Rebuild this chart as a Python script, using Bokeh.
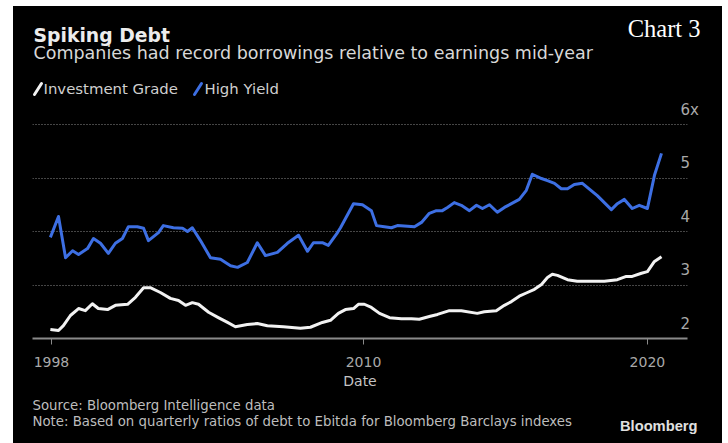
from bokeh.plotting import figure
from bokeh.models import Range1d, LinearAxis, FixedTicker
from bokeh.layouts import column
from bokeh.core.properties import value
from bokeh.embed import file_html
from bokeh.resources import INLINE

title = "Spiking Debt"
subtitle = "Companies had record borrowings relative to earnings mid-year"
series_names = ["Investment Grade", "High Yield"]

ig_dates = [1997.96, 1998.26, 1998.44, 1998.70, 1999.00, 1999.25, 1999.51, 1999.73, 2000.07, 2000.36,
            2000.81, 2001.10, 2001.40, 2001.65, 2002.02, 2002.39, 2002.69, 2002.95, 2003.20, 2003.43,
            2003.80, 2004.16, 2004.50, 2004.79, 2005.23, 2005.60, 2005.97, 2006.56, 2007.19, 2007.56,
            2008.00, 2008.30, 2008.59, 2008.85, 2009.15, 2009.33, 2009.55, 2009.81, 2010.11, 2010.48,
            2010.92, 2011.29, 2011.58, 2011.95, 2012.25, 2012.69, 2013.13, 2013.72, 2013.98, 2014.42,
            2014.72, 2014.98, 2015.27, 2015.57, 2015.83, 2016.09, 2016.31, 2016.49, 2016.68, 2017.05,
            2017.41, 2018.41, 2018.89, 2019.22, 2019.44, 2019.78, 2020.00, 2020.26, 2020.52]
ig_ratio = [2.17, 2.15, 2.24, 2.43, 2.56, 2.52, 2.65, 2.56, 2.54, 2.62,
            2.64, 2.77, 2.95, 2.95, 2.86, 2.75, 2.71, 2.62, 2.67, 2.64,
            2.49, 2.39, 2.30, 2.22, 2.26, 2.28, 2.24, 2.22, 2.19, 2.21,
            2.30, 2.34, 2.47, 2.54, 2.56, 2.64, 2.64, 2.58, 2.47, 2.39,
            2.37, 2.37, 2.36, 2.41, 2.45, 2.52, 2.52, 2.47, 2.50, 2.52,
            2.62, 2.69, 2.79, 2.86, 2.92, 3.01, 3.14, 3.20, 3.18, 3.10,
            3.07, 3.07, 3.10, 3.16, 3.16, 3.22, 3.25, 3.44, 3.53]

hy_dates = [1997.96, 1998.26, 1998.52, 1998.78, 1999.00, 1999.33, 1999.55, 1999.81, 2000.10, 2000.36,
            2000.62, 2000.84, 2001.17, 2001.40, 2001.58, 2001.95, 2002.13, 2002.50, 2002.84, 2003.02,
            2003.20, 2003.50, 2003.87, 2004.24, 2004.61, 2004.87, 2005.23, 2005.60, 2005.90, 2006.34,
            2006.71, 2007.12, 2007.45, 2007.67, 2008.00, 2008.22, 2008.56, 2008.67, 2009.15, 2009.48,
            2009.81, 2010.00, 2010.29, 2010.55, 2010.77, 2011.40, 2011.66, 2011.95, 2012.21, 2012.43,
            2012.62, 2012.87, 2013.13, 2013.43, 2013.69, 2013.91, 2014.17, 2014.46, 2014.72, 2014.98,
            2015.27, 2015.53, 2015.75, 2016.09, 2016.31, 2016.57, 2016.82, 2017.05, 2017.30, 2017.60,
            2018.15, 2018.67, 2018.89, 2019.15, 2019.44, 2019.70, 2020.00, 2020.26, 2020.52]
hy_ratio = [3.89, 4.28, 3.51, 3.64, 3.57, 3.68, 3.87, 3.78, 3.59, 3.78,
            3.87, 4.09, 4.09, 4.06, 3.83, 3.98, 4.11, 4.07, 4.06, 4.00,
            4.07, 3.83, 3.51, 3.48, 3.36, 3.33, 3.42, 3.79, 3.55, 3.61,
            3.78, 3.93, 3.63, 3.79, 3.79, 3.74, 3.98, 4.07, 4.52, 4.50,
            4.39, 4.11, 4.09, 4.07, 4.11, 4.09, 4.17, 4.34, 4.39, 4.39,
            4.45, 4.54, 4.49, 4.39, 4.49, 4.43, 4.50, 4.36, 4.45, 4.52,
            4.60, 4.77, 5.07, 4.99, 4.95, 4.90, 4.80, 4.80, 4.88, 4.90,
            4.67, 4.41, 4.52, 4.60, 4.43, 4.49, 4.43, 5.05, 5.46]

x_tick_values = [1998, 2009.52, 2020]
x_tick_labels = ["1998", "2010", "2020"]
y_tick_values = [2, 3, 4, 5, 6]
y_tick_labels = ["2", "3", "4", "5", "6x"]

source_note = "Source: Bloomberg Intelligence data"
method_note = "Note: Based on quarterly ratios of debt to Ebitda for Bloomberg Barclays indexes"
brand = "Bloomberg"
chart_tag = "Chart 3"

BLUE = "#3d6fe3"
WHITE = "#f2f2f2"
GRID = "#8a8a8a"
TICKTXT = "#a9a9a9"
W = 709


def text_panel(h):
    f = figure(width=W, height=h, x_range=Range1d(0, W), y_range=Range1d(h, 0),
               output_backend="svg", toolbar_location=None,
               x_axis_location=None, y_axis_location=None,
               background_fill_color="black", border_fill_color="black",
               min_border=0, frame_align=False)
    f.outline_line_color = None
    f.grid.visible = False
    return f


def put(f, t, x, y, size, color, font="DejaVu Sans", style="normal", align="left"):
    f.text(x=[x], y=[y], text=[t], text_font=value(font), text_font_size=value(f"{size}px"),
           text_font_style=value(style), text_color=color, text_align=align,
           text_baseline="middle")


# ---------- header ----------
head = text_panel(92)
put(head, title, 20, 29, 18.8, "#ececec", style="bold")
put(head, subtitle, 20, 46.5, 17.5, "#d8d8d8")
head.segment(x0=[21, 181], y0=[88, 88], x1=[28, 188], y1=[77, 77],
             line_color=[WHITE, BLUE], line_width=3, line_cap="round")
put(head, series_names[0], 30, 82.5, 14.9, "#cfcfcf")
put(head, series_names[1], 191, 82.5, 14.9, "#cfcfcf")
put(head, chart_tag, 687, 22, 24.5, "#ffffff", font="Liberation Serif", align="right")

# ---------- main chart ----------
y_top = 2 + 240 / 53.5
p = figure(width=W, height=298,
           x_range=Range1d(1997.30, 2021.48), y_range=Range1d(2, y_top),
           output_backend="svg", toolbar_location=None, y_axis_location=None,
           background_fill_color="black", border_fill_color="black",
           min_border_left=19, min_border_right=35, min_border_top=0, min_border_bottom=58,
           frame_align=False)
p.outline_line_color = None

p.xgrid.visible = False
p.ygrid.ticker = FixedTicker(ticks=y_tick_values[1:])
p.ygrid.grid_line_color = GRID
p.ygrid.grid_line_dash = "1 2"
p.ygrid.grid_line_width = 1

xa = p.xaxis[0]
xa.ticker = FixedTicker(ticks=x_tick_values)
xa.major_label_overrides = {v: t for v, t in zip(x_tick_values, x_tick_labels)}
xa.axis_line_color = GRID
xa.axis_line_width = 2
xa.major_tick_line_color = GRID
xa.major_tick_line_width = 1
xa.major_tick_out = 6
xa.major_tick_in = 0
xa.minor_tick_line_color = None
xa.major_label_text_color = TICKTXT
xa.major_label_text_font = "DejaVu Sans"
xa.major_label_text_font_size = "14px"
xa.major_label_standoff = 12
xa.axis_label = "Date"
xa.axis_label_text_color = "#c4c4c4"
xa.axis_label_text_font = "DejaVu Sans"
xa.axis_label_text_font_style = "normal"
xa.axis_label_text_font_size = "14px"
xa.axis_label_standoff = 3

# value labels sit just above their gridlines
p.extra_y_ranges = {"lab": Range1d(2 - 0.28, y_top - 0.28)}
ya = LinearAxis(y_range_name="lab", ticker=FixedTicker(ticks=y_tick_values),
                major_label_overrides={v: t for v, t in zip(y_tick_values, y_tick_labels)},
                axis_line_color=None, major_tick_line_color=None, minor_tick_line_color=None,
                major_tick_out=0, major_tick_in=0,
                major_label_text_color=TICKTXT, major_label_text_font="DejaVu Sans",
                major_label_text_font_size="15px", major_label_standoff=-7)
p.add_layout(ya, "right")

p.line(ig_dates, ig_ratio, line_color=WHITE, line_width=3, line_join="round")
p.line(hy_dates, hy_ratio, line_color=BLUE, line_width=3, line_join="round")

# ---------- footer ----------
foot = text_panel(47)
put(foot, source_note, 19, 9, 13.3, "#bdbdbd")
put(foot, method_note, 19, 25, 13.3, "#bdbdbd")
put(foot, brand, 684, 29, 14.7, "#e0e0e0", font="Liberation Sans", style="bold", align="right")

layout = column(head, p, foot, spacing=0)
layout.margin = (6, 6, 0, 13)
layout.styles = {"background-color": "black"}

open("out.html", "w").write(file_html(layout, INLINE))
